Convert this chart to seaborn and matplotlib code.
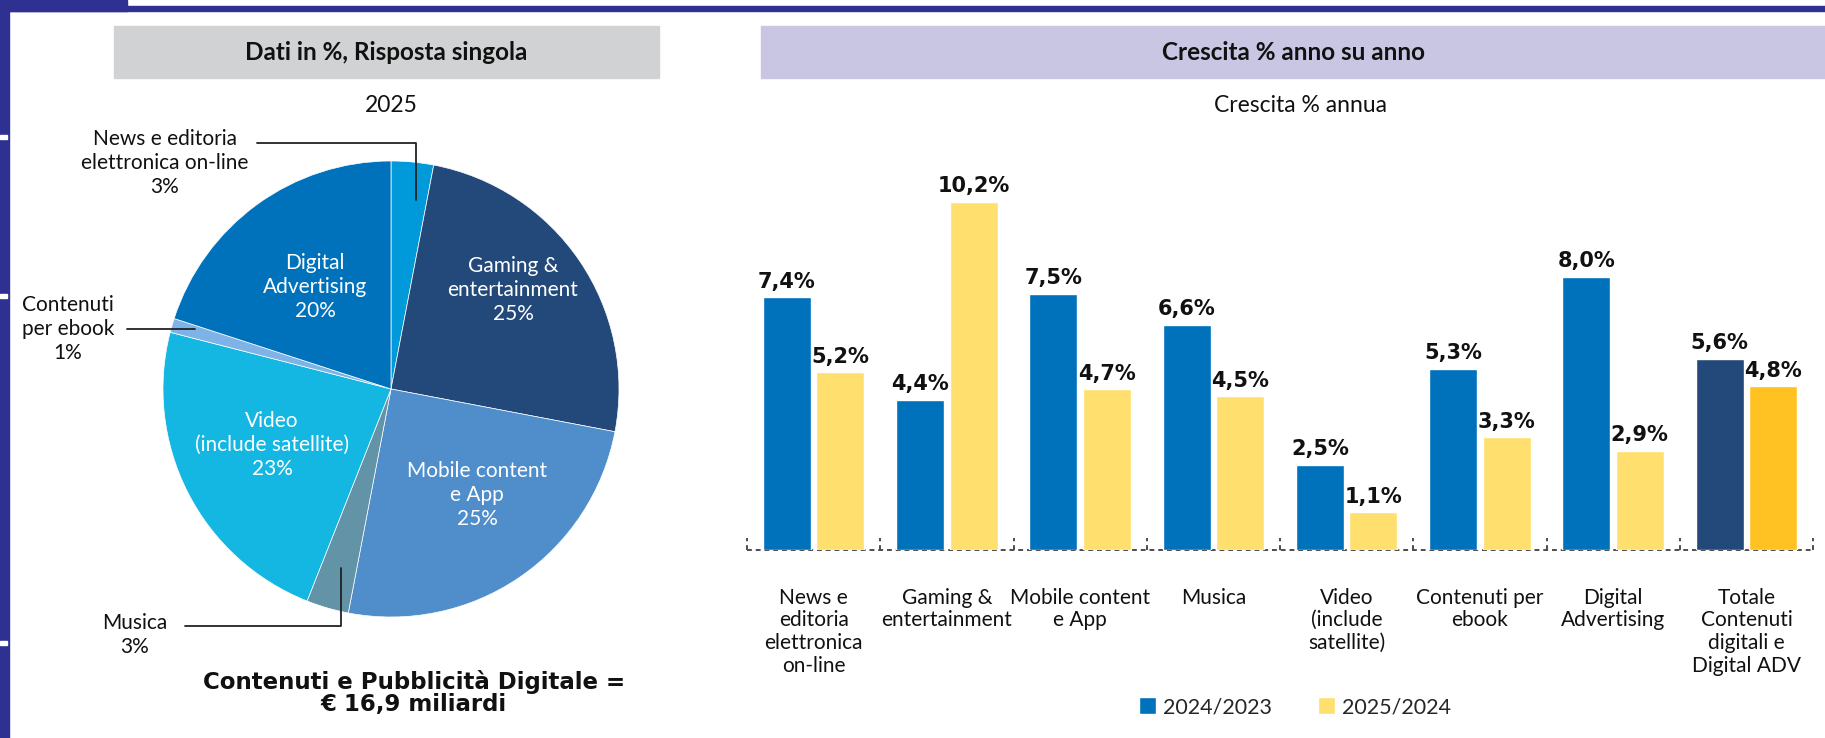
import numpy as np
import pandas as pd
import matplotlib
matplotlib.use("Agg")
import matplotlib.pyplot as plt
from matplotlib.patches import Rectangle
from matplotlib.lines import Line2D
import seaborn as sns

# ---- data -------------------------------------------------------------
pie_names = ["News e editoria\nelettronica on-line", "Gaming &\nentertainment",
             "Mobile content\ne App", "Musica", "Video\n(include satellite)",
             "Contenuti\nper ebook", "Digital\nAdvertising"]
pie_values = [3, 25, 25, 3, 23, 1, 20]

categories = ["News e\neditoria\nelettronica\non-line", "Gaming &\nentertainment",
              "Mobile content\ne App", "Musica", "Video\n(include\nsatellite)",
              "Contenuti per\nebook", "Digital\nAdvertising",
              "Totale\nContenuti\ndigitali e\nDigital ADV"]
periods = ["2024/2023", "2025/2024"]
growth_2024 = [7.4, 4.4, 7.5, 6.6, 2.5, 5.3, 8.0, 5.6]
growth_2025 = [5.2, 10.2, 4.7, 4.5, 1.1, 3.3, 2.9, 4.8]

total_label = "Contenuti e Pubblicità Digitale =\n€ 16,9 miliardi"

# ---- style ------------------------------------------------------------
FRAME = "#2E3192"
pie_colors = ["#0099D9", "#23487A", "#4F8ECB", "#6393A6", "#14B6E2", "#7DB3E6", "#0072BB"]
BLUE, YELLOW = "#0072BC", "#FFDF6E"
NAVY, GOLD = "#23487A", "#FFC222"

sns.set_theme(style="white")
plt.rcParams["font.family"] = ["Lato", "DejaVu Sans"]
BOLD_WIDE = ["DejaVu Sans"]

W, H = 1825, 738
fig = plt.figure(figsize=(W / 100, H / 100), dpi=100)
fig.patch.set_facecolor("white")


def fx(x):
    return x / W


def fy(y):
    return 1 - y / H


def frect(x0, y0, x1, y1, color):
    fig.patches.append(Rectangle((fx(x0), fy(y1)), fx(x1 - x0), (y1 - y0) / H,
                                 transform=fig.transFigure, color=color, zorder=0))


# page frame
frect(0, 0, 127, 11, FRAME)
frect(0, 6, W, 11, FRAME)
frect(0, 0, 9, H, FRAME)
for yy in (137, 296, 643):
    frect(0, yy - 2, 7, yy + 2, "white")

# section headers
frect(114, 26, 659, 78, "#D1D2D4")
frect(761, 26, W, 78, "#C8C6E3")
fig.text(fx(386), fy(52), "Dati in %, Risposta singola", ha="center", va="center",
         fontsize=17.5, fontweight="bold", color="#111")
fig.text(fx(1293), fy(52), "Crescita % anno su anno", ha="center", va="center",
         fontsize=17.5, fontweight="bold", color="#111")
fig.text(fx(391), fy(105), "2025", ha="center", va="center", fontsize=16.5, color="#111")
fig.text(fx(1300), fy(105), "Crescita % annua", ha="center", va="center", fontsize=16.5,
         color="#111")

# ---- pie --------------------------------------------------------------
R = 228
axp = fig.add_axes([fx(391 - R), fy(389 + R), 2 * R / W, 2 * R / H])
axp.pie(pie_values, colors=pie_colors, startangle=90, counterclock=False, radius=1,
        wedgeprops=dict(edgecolor="white", linewidth=0.5))
axp.set_xlim(-1, 1)
axp.set_ylim(-1, 1)
axp.axis("off")

# label anchor points (pixels) and text colour per slice
label_pos = [(165, 163), (513, 290), (477, 495), (135, 635), (272, 445), (68, 329), (315, 287)]
label_col = ["#111", "white", "white", "#111", "white", "#111", "white"]
for name, v, (px, py), c in zip(pie_names, pie_values, label_pos, label_col):
    fig.text(fx(px), fy(py), f"{name}\n{v}%", ha="center", va="center", fontsize=15,
             color=c, linespacing=1.28)

# leader lines for the small slices
leaders = [[(257, 143), (416, 143), (416, 200)],
           [(127, 329), (195, 329)],
           [(185, 626), (341, 626), (341, 568)]]
for pts in leaders:
    xs = [fx(p[0]) for p in pts]
    ys = [fy(p[1]) for p in pts]
    fig.add_artist(Line2D(xs, ys, transform=fig.transFigure, color="#222", lw=1.3))

fig.text(fx(414), fy(693), total_label, ha="center", va="center", fontsize=16.5,
         fontweight="bold", family=BOLD_WIDE, color="#111", linespacing=0.92)

# ---- bars -------------------------------------------------------------
df = pd.DataFrame({
    "Categoria": categories * 2,
    "Periodo": [periods[0]] * len(categories) + [periods[1]] * len(categories),
    "Crescita": growth_2024 + growth_2025,
})

px_per_unit = 34.15
ymax = 12
axb = fig.add_axes([fx(747), fy(550), fx(1066), ymax * px_per_unit / H])
sns.barplot(data=df, x="Categoria", y="Crescita", hue="Periodo", palette=[BLUE, YELLOW],
            width=0.8, gap=0.1, saturation=1, ax=axb, errorbar=None)
axb.set_xlim(-0.5, len(categories) - 0.5)
axb.set_ylim(0, ymax)

# highlight the overall total
axb.containers[0].patches[-1].set_facecolor(NAVY)
axb.containers[1].patches[-1].set_facecolor(GOLD)


def pct(v):
    return f"{v:.1f}".replace(".", ",") + "%"


for cont, vals in zip(axb.containers, [growth_2024, growth_2025]):
    axb.bar_label(cont, labels=[pct(v) for v in vals], padding=4, fontsize=15,
                  fontweight="bold", family=BOLD_WIDE, color="#111")

for s in axb.spines.values():
    s.set_visible(False)
axb.set_yticks([])
axb.set_xlabel("")
axb.set_ylabel("")
axb.tick_params(axis="x", length=0, pad=27)
for lab in axb.get_xticklabels():
    lab.set_fontsize(15)
    lab.set_linespacing(1.17)
    lab.set_color("#111")
    lab.set_verticalalignment("top")

dash = (0, (2.5, 2))
axb.axhline(0, color="#4d4d4d", lw=1.4, ls=dash, clip_on=False, zorder=0)
axb.vlines(np.arange(-0.5, len(categories)), 0, 0.36, color="#4d4d4d", lw=1.4,
           linestyles=[dash], clip_on=False, zorder=0)

sns.move_legend(axb, "center", bbox_to_anchor=(fx(1295), fy(707)),
                bbox_transform=fig.transFigure, ncol=2, frameon=False, title=None,
                fontsize=15.5, handlelength=0.8, handleheight=0.8, handletextpad=0.35,
                columnspacing=2.1)

fig.savefig("out.png", dpi=100)
